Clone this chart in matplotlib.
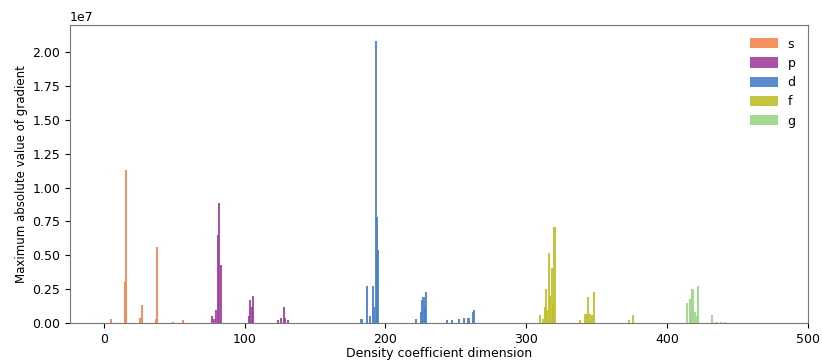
import matplotlib
matplotlib.use("Agg")
import matplotlib.pyplot as plt

# sparse peaks: (dimension index, max |gradient|)
s_idx = [5, 15, 16, 26, 27, 37, 38, 49, 56]
s_val = [0.03e7, 0.30e7, 1.13e7, 0.04e7, 0.13e7, 0.03e7, 0.56e7, 0.01e7, 0.02e7]

p_idx = [77, 78, 80, 81, 82, 83, 103, 104, 105, 106, 124, 126, 128, 129, 131]
p_val = [0.05e7, 0.03e7, 0.10e7, 0.65e7, 0.89e7, 0.43e7, 0.05e7, 0.17e7, 0.12e7, 0.20e7,
         0.02e7, 0.04e7, 0.12e7, 0.04e7, 0.02e7]

d_idx = [183, 187, 189, 191, 192, 193, 194, 195, 222, 225, 226, 227, 228, 229,
         244, 247, 252, 256, 259, 262, 263]
d_val = [0.03e7, 0.27e7, 0.05e7, 0.27e7, 0.12e7, 2.08e7, 0.78e7, 0.54e7, 0.03e7, 0.08e7,
         0.17e7, 0.19e7, 0.12e7, 0.23e7, 0.02e7, 0.02e7, 0.03e7, 0.04e7, 0.04e7,
         0.08e7, 0.10e7]

f_idx = [310, 312, 313, 314, 315, 316, 317, 318, 319, 320, 338, 342, 343, 344, 345,
         347, 348, 373, 376]
f_val = [0.06e7, 0.03e7, 0.12e7, 0.25e7, 0.10e7, 0.52e7, 0.20e7, 0.41e7, 0.15e7, 0.71e7,
         0.02e7, 0.07e7, 0.05e7, 0.19e7, 0.07e7, 0.06e7, 0.23e7, 0.02e7, 0.06e7]

g_idx = [414, 416, 417, 418, 420, 421, 422, 432, 435, 438, 441]
g_val = [0.15e7, 0.18e7, 0.06e7, 0.25e7, 0.08e7, 0.05e7, 0.27e7, 0.06e7, 0.01e7, 0.01e7, 0.01e7]

labels = ["s", "p", "d", "f", "g"]
colors = ["#f7844f", "#a03f9c", "#4a7fca", "#bfbf2a", "#9bd585"]
groups = [(s_idx, s_val), (p_idx, p_val), (d_idx, d_val), (f_idx, f_val), (g_idx, g_val)]

fig = plt.figure(figsize=(8.22, 3.63), dpi=100)
ax = fig.add_axes([0.085, 0.110, 0.898, 0.821])

for (idx, val), lab, col in zip(groups, labels, colors):
    ax.bar(idx, val, width=1.5, color=col, alpha=0.9, label=lab)

ax.set_xlim(-24, 500)
ax.set_ylim(0, 2.2e7)
ax.set_yticks([0, 0.25e7, 0.5e7, 0.75e7, 1.0e7, 1.25e7, 1.5e7, 1.75e7, 2.0e7])
ax.tick_params(labelsize=9)
ax.yaxis.get_offset_text().set_fontsize(9)
ax.set_xlabel("Density coefficient dimension", fontsize=9, labelpad=1)
ax.set_ylabel("Maximum absolute value of gradient", fontsize=8.5, labelpad=3)
for sp in ax.spines.values():
    sp.set_color("#777777")

ax.legend(loc="upper right", frameon=False, fontsize=9, handlelength=2.2,
          handleheight=0.9, borderaxespad=0.6)

fig.savefig("out.png", dpi=100)
